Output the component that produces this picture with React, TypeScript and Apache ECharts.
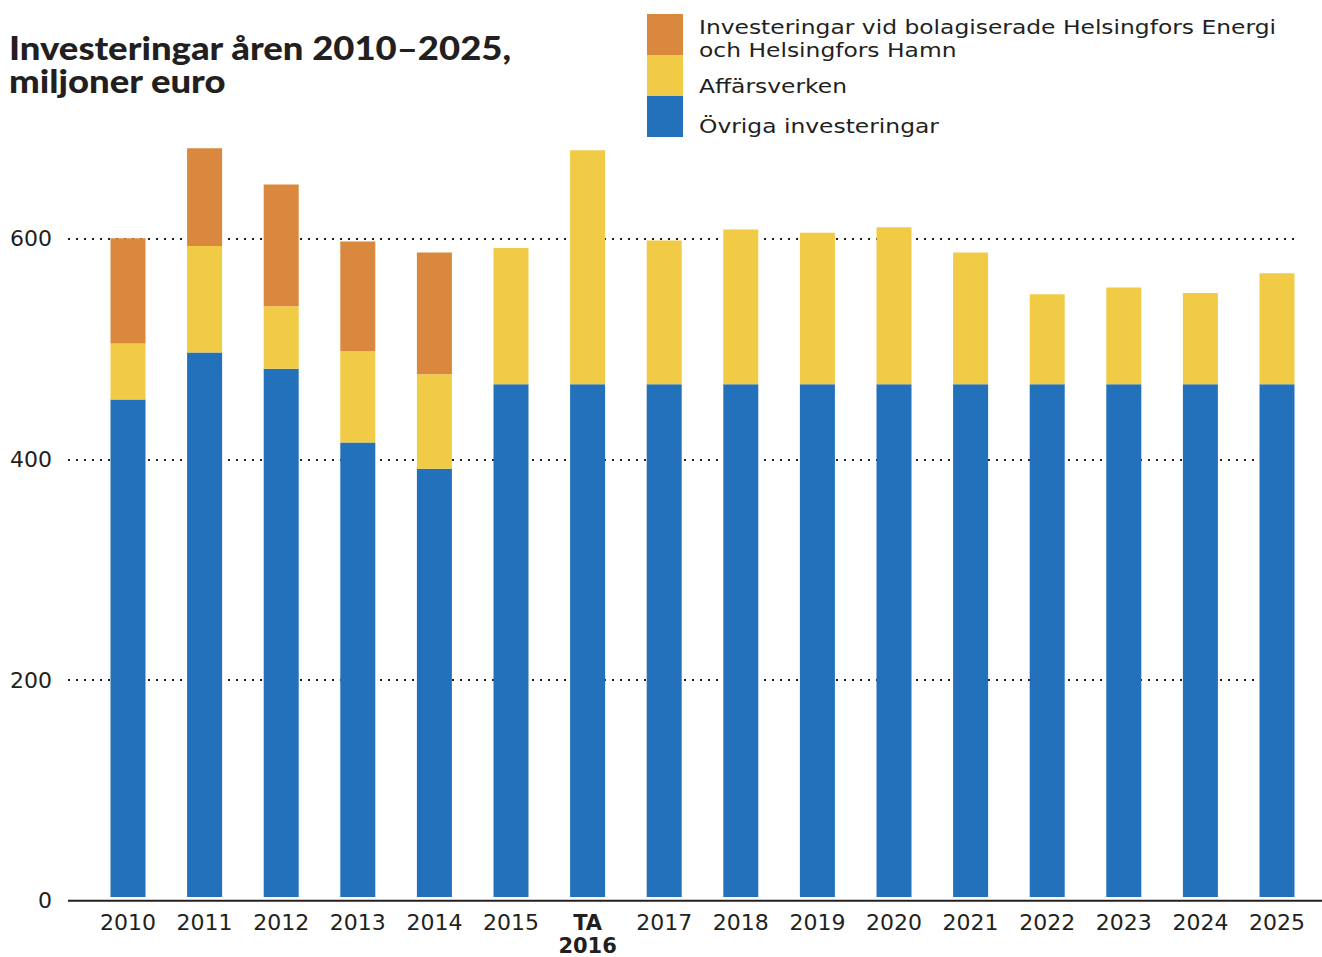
import React, { useEffect, useRef } from "react";
import * as echarts from "echarts";

const categories = ["2010", "2011", "2012", "2013", "2014", "2015", "TA 2016", "2017", "2018", "2019", "2020", "2021", "2022", "2023", "2024", "2025"];
const ovrigaInvesteringar = [453, 496, 481, 414, 390, 467, 467, 467, 467, 467, 467, 467, 467, 467, 467, 467];
const affarsverken = [51, 97, 57, 83, 86, 124, 213, 131, 141, 138, 143, 120, 82, 88, 83, 101];
const bolagiserade = [96, 89, 111, 100, 111, null, null, null, null, null, null, null, null, null, null, null];
const yTicks = [0, 200, 400, 600];

const seriesNames = [
  "Övriga investeringar",
  "Affärsverken",
  "Investeringar vid bolagiserade Helsingfors Energi och Helsingfors Hamn",
];
const titleLines = ["Investeringar åren 2010–2025,", "miljoner euro"];
const legendLines = ["Investeringar vid bolagiserade Helsingfors Energi", "och Helsingfors Hamn", "Affärsverken", "Övriga investeringar"];
const colors = { blue: "#2271BA", yellow: "#F1CB45", orange: "#D9883D", text: "#231F20" };
const FONT = "'DejaVu Sans', sans-serif";

export default function App() {
  const ref = useRef<HTMLDivElement>(null);
  useEffect(() => {
    if (!ref.current) return;
    const chart = echarts.init(ref.current, null, { renderer: "svg" });
    const top = 128.4;
    const bottom = 56.3;
    const yMax = 700;
    const legendText = (text: string, y: number) => ({
      type: "text",
      x: 699,
      y,
      scaleX: 1.17,
      style: { text, fontFamily: FONT, fontSize: 20, fill: colors.text, verticalAlign: "middle" },
    });
    const titleText = (text: string, y: number) => ({
      type: "text",
      x: 9,
      y,
      scaleX: 1.14,
      style: {
        text,
        fontFamily: "Lato, sans-serif",
        fontWeight: 900,
        fontSize: 32,
        fill: colors.text,
        verticalAlign: "middle",
      },
    });
    chart.setOption({
      animation: false,
      backgroundColor: "#ffffff",
      grid: [
        { left: 89.7, right: 6.7, top, bottom },
        { left: 68, right: 25, top, bottom },
      ],
      xAxis: [
        {
          type: "category",
          gridIndex: 0,
          data: categories,
          axisLine: { show: false },
          axisTick: { show: false },
          axisLabel: {
            interval: 0,
            color: colors.text,
            fontFamily: FONT,
            fontSize: 22,
            margin: 14,
            lineHeight: 23,
            formatter: (v: string) => (v.startsWith("TA") ? "{b|TA}\n{b|2016}" : v),
            rich: { b: { fontWeight: "bold", fontFamily: FONT, fontSize: 21, color: colors.text, lineHeight: 23 } },
          },
        },
        { type: "value", gridIndex: 1, show: false, min: 0, max: 1 },
      ],
      yAxis: [
        { type: "value", gridIndex: 0, min: 0, max: yMax, show: false },
        {
          type: "value",
          gridIndex: 1,
          min: 0,
          max: yMax,
          interval: 200,
          axisLine: { show: false },
          axisTick: { show: false },
          axisLabel: {
            color: colors.text,
            fontFamily: FONT,
            fontSize: 22,
            margin: 16,
            showMaxLabel: false,
            formatter: (v: number) => (yTicks.includes(v) ? String(v) : ""),
          },
          splitLine: {
            show: true,
            showMinLine: false,
            showMaxLine: false,
            lineStyle: { color: "#231F20", width: 2, type: [2, 6] },
          },
        },
      ],
      series: [
        {
          name: seriesNames[0],
          type: "bar",
          stack: "total",
          xAxisIndex: 0,
          yAxisIndex: 0,
          barWidth: 35,
          data: ovrigaInvesteringar,
          itemStyle: { color: colors.blue },
        },
        {
          name: seriesNames[1],
          type: "bar",
          stack: "total",
          xAxisIndex: 0,
          yAxisIndex: 0,
          barWidth: 35,
          data: affarsverken,
          itemStyle: { color: colors.yellow },
        },
        {
          name: seriesNames[2],
          type: "bar",
          stack: "total",
          xAxisIndex: 0,
          yAxisIndex: 0,
          barWidth: 35,
          data: bolagiserade,
          itemStyle: { color: colors.orange },
        },
      ],
      graphic: [
        {
          type: "line",
          shape: { x1: 68, y1: 900.7, x2: 1322, y2: 900.7 },
          style: { stroke: "#231F20", lineWidth: 2 },
          z: 10,
        },
        titleText(titleLines[0], 47.5),
        titleText(titleLines[1], 80.5),
        { type: "rect", shape: { x: 647, y: 14, width: 36, height: 41 }, style: { fill: colors.orange } },
        { type: "rect", shape: { x: 647, y: 55, width: 36, height: 41 }, style: { fill: colors.yellow } },
        { type: "rect", shape: { x: 647, y: 96, width: 36, height: 41 }, style: { fill: colors.blue } },
        legendText(legendLines[0], 27),
        legendText(legendLines[1], 50),
        legendText(legendLines[2], 86),
        legendText(legendLines[3], 126),
      ],
    });
    return () => chart.dispose();
  }, []);
  return <div ref={ref} style={{ position: "fixed", left: 0, top: 0, width: 1322, height: 957 }} />;
}
